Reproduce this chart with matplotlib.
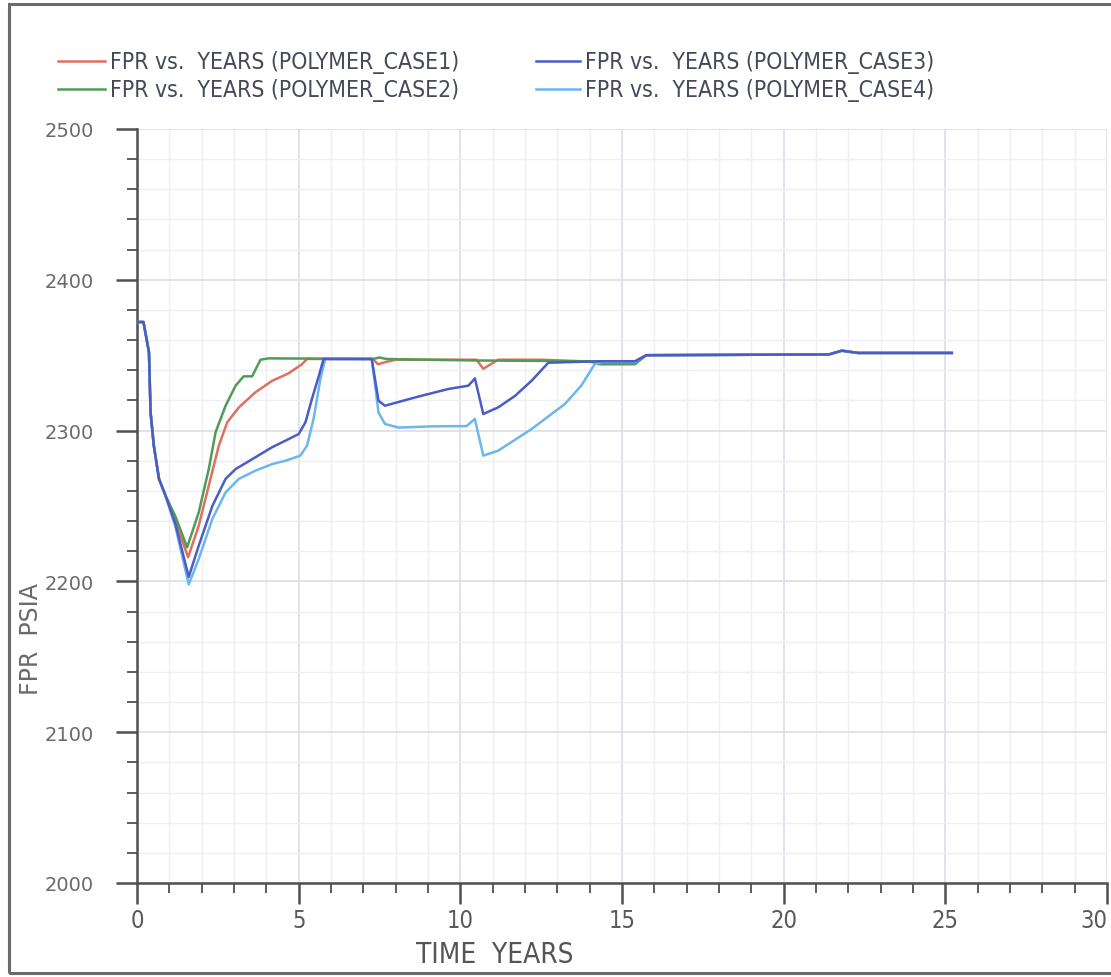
import matplotlib
matplotlib.use('Agg')
import matplotlib.pyplot as plt
from matplotlib.lines import Line2D
from matplotlib.patches import Rectangle
from matplotlib.ticker import MultipleLocator

# Field pressure (psia) against time (years) for four polymer cases
t_case1 = [0, 0.2, 0.37, 0.42, 0.52, 0.68, 0.88, 1.19, 1.58, 1.91, 2.22, 2.53, 2.79,
           3.15, 3.66, 4.18, 4.69, 5.10, 5.26, 7.3, 7.45, 7.7, 8.0, 10.5, 10.71, 11.17,
           12.5, 14.2, 15.4, 15.75, 21.4, 21.8, 22.3, 25.2]
p_case1 = [2372, 2372, 2352, 2312, 2290, 2268, 2257, 2240, 2216, 2237, 2263.5, 2290,
           2305.5, 2315.4, 2325.4, 2333, 2338, 2344, 2347.5, 2347.5, 2344, 2345.5, 2347,
           2347, 2341, 2347, 2347, 2345.5, 2345.5, 2350, 2350.5, 2353, 2351.5, 2351.5]

t_case2 = [0, 0.2, 0.37, 0.42, 0.52, 0.68, 0.88, 1.19, 1.55, 1.91, 2.22, 2.43, 2.74,
           3.05, 3.30, 3.56, 3.82, 4.07, 7.3, 7.5, 7.7, 9.0, 10.5, 14.0, 14.3, 15.4,
           15.75, 21.4, 21.8, 22.3, 25.2]
p_case2 = [2372, 2372, 2352, 2312, 2290, 2268, 2257, 2243, 2222.6, 2245.8, 2274.5,
           2298.9, 2316.5, 2329.8, 2336, 2336, 2347, 2347.9, 2347.5, 2348.5, 2347.5,
           2347, 2346.5, 2346, 2344, 2344, 2350, 2350.5, 2353, 2351.5, 2351.5]

t_case3 = [0, 0.2, 0.37, 0.42, 0.52, 0.68, 0.88, 1.19, 1.6, 1.91, 2.33, 2.74, 3.05,
           3.56, 4.18, 4.59, 5.0, 5.21, 5.41, 5.62, 5.77, 7.26, 7.47, 7.67, 8.6, 9.63,
           10.25, 10.45, 10.71, 11.17, 11.69, 12.2, 12.72, 14.3, 15.4, 15.75, 21.4,
           21.8, 22.3, 25.2]
p_case3 = [2372, 2372, 2352, 2312, 2290, 2268, 2257, 2238, 2203, 2223.7, 2250, 2268,
           2274.5, 2281, 2289, 2293.3, 2297.7, 2305.5, 2321, 2336, 2347.5, 2347.5,
           2319.8, 2316.5, 2322, 2327.6, 2329.8, 2334.6, 2311, 2315.4, 2323, 2333,
           2345, 2346, 2346, 2350, 2350.5, 2353, 2351.5, 2351.5]

t_case4 = [0, 0.2, 0.37, 0.42, 0.52, 0.68, 0.88, 1.19, 1.6, 1.91, 2.33, 2.74, 3.15,
           3.66, 4.18, 4.59, 5.05, 5.26, 5.46, 5.67, 5.82, 7.26, 7.47, 7.67, 8.09, 9.1,
           10.19, 10.45, 10.71, 11.17, 12.2, 13.23, 13.74, 14.16, 14.4, 15.4, 15.75,
           21.4, 21.8, 22.3, 25.2]
p_case4 = [2372, 2372, 2352, 2312, 2290, 2268, 2257, 2236, 2198, 2214.9, 2241.4, 2259,
           2268, 2273.4, 2277.8, 2280, 2283.4, 2290, 2307.7, 2334, 2347.5, 2347.5, 2312,
           2304.4, 2302, 2302.8, 2303, 2307.7, 2283.4, 2286.7, 2301, 2317.6, 2329.8,
           2344.2, 2345.5, 2345.5, 2350, 2350.5, 2353, 2351.5, 2351.5]

labels = ['FPR vs.  YEARS (POLYMER_CASE1)', 'FPR vs.  YEARS (POLYMER_CASE2)',
          'FPR vs.  YEARS (POLYMER_CASE3)', 'FPR vs.  YEARS (POLYMER_CASE4)']
colors = ['#e0705e', '#4f9c56', '#4a5cc6', '#6cb6ee']
x_ticks = [0, 5, 10, 15, 20, 25, 30]
y_ticks = [2000, 2100, 2200, 2300, 2400, 2500]

NARROW = dict(family='DejaVu Sans', stretch='condensed')
TEXT = '#454a58'
AXIS = '#505050'

fig = plt.figure(figsize=(11.11, 9.78), dpi=100)
ax = fig.add_axes([137 / 1111, 94 / 978, 970 / 1111, 754 / 978])

# draw order keeps case 3 on top where the curves overlap
series = [(t_case1, p_case1, 0), (t_case2, p_case2, 1),
          (t_case4, p_case4, 3), (t_case3, p_case3, 2)]
for t, p, i in series:
    ax.plot(t, p, color=colors[i], lw=1.8, solid_joinstyle='round', zorder=3)

ax.set_xlim(0, 30)
ax.set_ylim(2000, 2500)
ax.set_xticks(x_ticks)
ax.set_yticks(y_ticks)
ax.xaxis.set_minor_locator(MultipleLocator(1))
ax.yaxis.set_minor_locator(MultipleLocator(20))

ax.grid(True, which='minor', color='#eceff3', lw=1.0, zorder=0)
ax.grid(True, which='major', color='#dadfe6', lw=1.2, zorder=0)
ax.set_axisbelow(True)

for side in ('top', 'right'):
    ax.spines[side].set_visible(False)
for side in ('left', 'bottom'):
    ax.spines[side].set_color(AXIS)
    ax.spines[side].set_linewidth(1.8)

ax.tick_params(which='major', direction='out', length=15, width=1.8, color=AXIS)
ax.tick_params(which='minor', direction='out', length=7.5, width=1.3, color=AXIS)
ax.tick_params(axis='x', which='major', pad=3)
ax.tick_params(axis='y', which='major', pad=16)
xlabels = ax.set_xticklabels([str(v) for v in x_ticks], fontsize=17,
                             color='#5a5a5a', **NARROW)
xlabels[-1].set_horizontalalignment('right')
ax.set_yticklabels([str(v) for v in y_ticks], family='DejaVu Sans', fontsize=14,
                   color='#6a6a6a')

ax.set_xlabel('TIME  YEARS', fontsize=20, color='#555555', **NARROW)
ax.xaxis.set_label_coords(0.369, -0.075)
ax.set_ylabel('FPR  PSIA', family='DejaVu Sans', fontsize=17, color='#6a6a6a')
ax.yaxis.set_label_coords(-0.097, 0.325)

# legend, two columns above the plot
rows = [978 - 62, 978 - 90]
cols = [(58, 105, 110), (536, 580, 585)]
for k in range(4):
    x0, x1, xt = cols[k // 2]
    yy = rows[k % 2] / 978
    fig.add_artist(Line2D([x0 / 1111, x1 / 1111], [yy, yy], color=colors[k], lw=1.8,
                          transform=fig.transFigure))
    fig.text(xt / 1111, yy, labels[k], fontsize=16.5, color=TEXT,
             va='center', ha='left', **NARROW)

# outer frame
fig.add_artist(Rectangle((9 / 1111, 4 / 978), 1.2, 969 / 978, fill=False,
                         edgecolor='#6a6a6a', lw=2.2, transform=fig.transFigure))

fig.savefig('out.png', dpi=100, facecolor='white')
